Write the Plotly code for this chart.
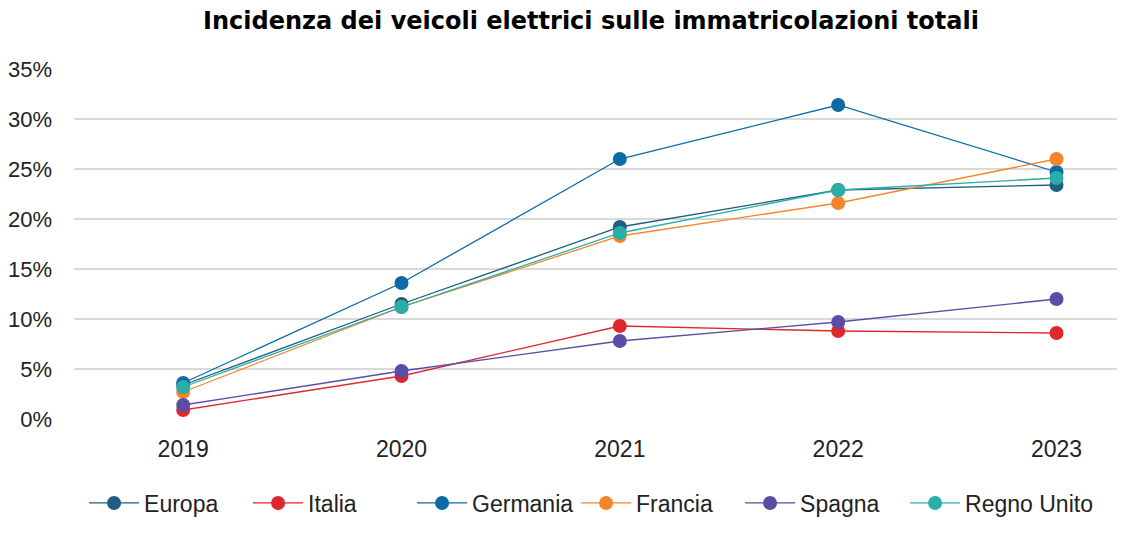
import plotly.graph_objects as go

years = ["2019", "2020", "2021", "2022", "2023"]
europa = [0.034, 0.115, 0.192, 0.229, 0.234]
italia = [0.009, 0.043, 0.093, 0.088, 0.086]
germania = [0.036, 0.136, 0.260, 0.314, 0.247]
francia = [0.027, 0.112, 0.183, 0.216, 0.260]
spagna = [0.014, 0.048, 0.078, 0.097, 0.120]
regno_unito = [0.032, 0.112, 0.186, 0.229, 0.241]

series = [
    ("Europa", europa, "#1E5F80", "legend"),
    ("Italia", italia, "#E0272D", "legend"),
    ("Germania", germania, "#0B6BA6", "legend"),
    ("Francia", francia, "#F5852A", "legend"),
    ("Spagna", spagna, "#5A4DA6", "legend"),
    ("Regno Unito", regno_unito, "#2AAEA9", "legend2"),
]

fig = go.Figure()
for name, vals, col, lg in series:
    fig.add_trace(go.Scatter(
        x=years, y=vals, name=name, mode="lines+markers",
        line=dict(color=col, width=1.3),
        marker=dict(color=col, size=14, line=dict(width=0)),
        cliponaxis=False, legend=lg,
    ))

W, H = 1117, 525
font_family = "Liberation Sans, Arial, sans-serif"
legend_common = dict(
    orientation="h", y=-0.24, yanchor="middle", xanchor="left",
    font=dict(size=23, color="#222222"), itemwidth=50,
)
fig.update_layout(
    width=W, height=H,
    margin=dict(l=66, r=3, t=61, b=114, autoexpand=False),
    paper_bgcolor="white", plot_bgcolor="white",
    font=dict(family=font_family, size=22, color="#222222"),
    title=dict(
        text="<b>Incidenza dei veicoli elettrici sulle immatricolazioni totali</b>",
        x=583 / W, xanchor="center", y=1 - 4 / H, yanchor="top",
        pad=dict(t=0, b=0), yref="container",
        font=dict(family="DejaVu Sans, sans-serif", size=24, color="black"),
    ),
    showlegend=True,
    legend=dict(x=0.0096, entrywidth=99, entrywidthmode="pixels", **legend_common),
    legend2=dict(x=0.793, **legend_common),
)
fig.update_xaxes(
    type="category", range=[-0.5, 4.3], showgrid=False, showline=False,
    zeroline=False, ticks="", ticklabelstandoff=14, automargin=False,
    tickfont=dict(size=23),
)
fig.update_yaxes(
    range=[0, 0.35], dtick=0.05, tickformat=".0%", showgrid=True,
    gridcolor="#D9D9D9", gridwidth=1.5, zeroline=False, showline=False,
    ticks="", ticklabelstandoff=21, automargin=False,
)

fig.write_html("out.html")
